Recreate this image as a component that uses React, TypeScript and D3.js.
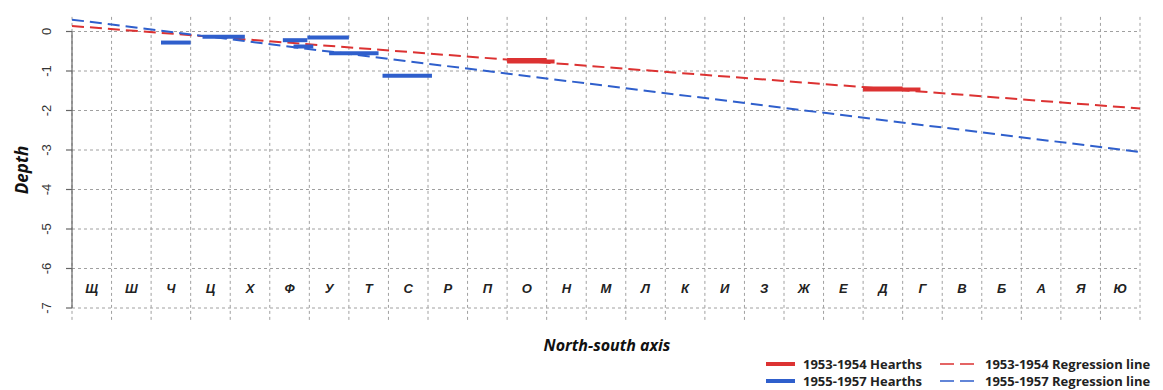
import React from "react";
import * as d3 from "d3";

const letters = ["Щ","Ш","Ч","Ц","Х","Ф","У","Т","С","Р","П","О","Н","М","Л","К","И","З","Ж","Е","Д","Г","В","Б","А","Я","Ю"];
const yTicks = [0, -1, -2, -3, -4, -5, -6, -7];

// hearths: [xStart, xEnd, depth]
const hearths5354: [number, number, number][] = [
  [11.0, 12.0, -0.72],
  [11.0, 12.2, -0.76],
  [20.0, 21.0, -1.44],
  [20.0, 21.45, -1.47],
];
const hearths5557: [number, number, number][] = [
  [2.25, 3.0, -0.28],
  [3.3, 4.37, -0.13],
  [5.33, 5.95, -0.22],
  [5.95, 7.0, -0.15],
  [5.6, 6.1, -0.38],
  [6.5, 7.75, -0.55],
  [7.85, 9.1, -1.12],
];
// regression lines: [x, depth] endpoints
const reg5354: [number, number][] = [[0, 0.14], [27, -1.95]];
const reg5557: [number, number][] = [[0, 0.3], [27, -3.05]];

const RED = "#dc3232";
const BLUE = "#2f5fcc";

export default function App() {
  const W = 1163, H = 390;
  const x = d3.scaleLinear().domain([0, 27]).range([72, 1140]);
  const y = d3.scaleLinear().domain([0, -7]).range([31.5, 308]);
  const yTop = y(0.37), yBot = y(-7.35);
  const line = d3.line<[number, number]>().x(d => x(d[0])).y(d => y(d[1]));
  const gridColor = "#a0a0a0";
  const font = "'Liberation Sans', Arial, sans-serif";
  const font2 = "'Open Sans', 'Liberation Sans', sans-serif";
  const r1 = 364, r2 = 381;
  return (
    <svg width={W} height={H} style={{ position: "absolute", left: 0, top: 0, background: "#fff" }}>
      {/* grid */}
      {d3.range(0, 28).map(i => (
        <line key={"v" + i} x1={x(i)} x2={x(i)} y1={yTop} y2={yBot} stroke={gridColor} strokeWidth={1} strokeDasharray="3,3" />
      ))}
      {yTicks.map(t => (
        <line key={"h" + t} x1={x(0)} x2={x(27)} y1={y(t)} y2={y(t)} stroke={gridColor} strokeWidth={1} strokeDasharray="3,3" />
      ))}
      {/* y axis */}
      <line x1={x(0)} x2={x(0)} y1={y(0)} y2={y(-7)} stroke="#666" strokeWidth={1.2} />
      {yTicks.map(t => (
        <g key={"t" + t}>
          <line x1={x(0) - 6} x2={x(0)} y1={y(t)} y2={y(t)} stroke="#666" strokeWidth={1.2} />
          <text transform={`translate(51,${y(t)}) rotate(-90)`} textAnchor="middle" fontFamily={font} fontSize={13} fill="#333">{t}</text>
        </g>
      ))}
      {/* letters */}
      {letters.map((l, i) => (
        <text key={"l" + i} x={x(i + 0.5)} y={y(-6.5) + 5} textAnchor="middle" fontFamily={font} fontSize={13} fontWeight="bold" fontStyle="italic" fill="#222">{l}</text>
      ))}
      {/* regression lines */}
      <path d={line(reg5354) || ""} stroke={RED} strokeWidth={2} strokeDasharray="12,6" fill="none" />
      <path d={line(reg5557) || ""} stroke={BLUE} strokeWidth={2} strokeDasharray="12,6" fill="none" />
      {/* hearths */}
      {hearths5354.map((h, i) => (
        <line key={"r" + i} x1={x(h[0])} x2={x(h[1])} y1={y(h[2])} y2={y(h[2])} stroke={RED} strokeWidth={4} />
      ))}
      {hearths5557.map((h, i) => (
        <line key={"b" + i} x1={x(h[0])} x2={x(h[1])} y1={y(h[2])} y2={y(h[2])} stroke={BLUE} strokeWidth={4} />
      ))}
      {/* axis titles */}
      <text transform="translate(28,170) rotate(-90)" textAnchor="middle" fontFamily={font2} fontSize={17} fontWeight="bold" fontStyle="italic" fill="#111">Depth</text>
      <text x={607} y={351} textAnchor="middle" fontFamily={font2} fontSize={16} fontWeight="bold" fontStyle="italic" fill="#111">North-south axis</text>
      {/* legend */}
      <line x1={766} x2={795} y1={r1} y2={r1} stroke={RED} strokeWidth={4} />
      <text x={803} y={r1 + 4.5} fontFamily={font2} fontSize={13} fontWeight="bold" fill="#222">1953-1954 Hearths</text>
      <line x1={766} x2={795} y1={r2} y2={r2} stroke={BLUE} strokeWidth={4} />
      <text x={803} y={r2 + 4.5} fontFamily={font2} fontSize={13} fontWeight="bold" fill="#222">1955-1957 Hearths</text>
      <line x1={940} x2={976} y1={r1} y2={r1} stroke={RED} strokeWidth={1.5} strokeDasharray="14,6" />
      <text x={985} y={r1 + 4.5} fontFamily={font2} fontSize={13} fontWeight="bold" fill="#222">1953-1954 Regression line</text>
      <line x1={940} x2={976} y1={r2} y2={r2} stroke={BLUE} strokeWidth={1.5} strokeDasharray="14,6" />
      <text x={985} y={r2 + 4.5} fontFamily={font2} fontSize={13} fontWeight="bold" fill="#222">1955-1957 Regression line</text>
    </svg>
  );
}
